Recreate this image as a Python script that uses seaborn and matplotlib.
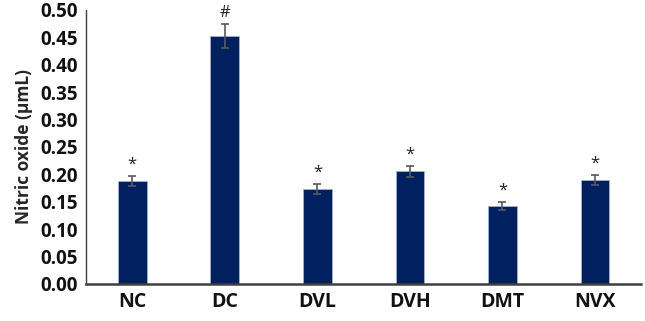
import pandas as pd
import numpy as np
import matplotlib
matplotlib.use("Agg")
import matplotlib.pyplot as plt
import seaborn as sns

# data
groups = ["NC", "DC", "DVL", "DVH", "DMT", "NVX"]
nitric_oxide = [0.188, 0.452, 0.173, 0.206, 0.142, 0.190]
sem = [0.009, 0.022, 0.009, 0.010, 0.007, 0.009]
marks = ["*", "#", "*", "*", "*", "*"]

df = pd.DataFrame({"group": groups, "no": nitric_oxide, "sem": sem})

sns.set_theme(style="white")
plt.rcParams["font.family"] = ["Open Sans", "DejaVu Sans"]

fig = plt.figure(figsize=(6.45, 3.21), dpi=100)
ax = fig.add_axes([0.1333, 0.1153, 0.861, 0.854])

sns.barplot(data=df, x="group", y="no", color="#002060", width=0.31,
            edgecolor="#aab0d0", linewidth=0.6, saturation=1, errorbar=None, ax=ax)
ax.errorbar(np.arange(len(groups)), df["no"], yerr=df["sem"], fmt="none",
            ecolor="#595959", elinewidth=1.2, capsize=3, capthick=1.2)

for i, (v, e, m) in enumerate(zip(nitric_oxide, sem, marks)):
    ax.text(i, v + e + 0.006, m, ha="center", va="bottom",
            fontsize=12, color="#222222")

ax.set_xlim(-0.5, 5.5)
ax.set_ylim(0, 0.5)
ax.set_yticks(np.arange(0, 0.51, 0.05))
ax.set_yticklabels([f"{t:.2f}" for t in np.arange(0, 0.51, 0.05)])
ax.set_xlabel("")
ax.set_ylabel("Nitric oxide (µmL)", fontsize=12.5, fontweight="bold", labelpad=5)
ax.tick_params(axis="y", length=0, labelsize=13.5, pad=6)
ax.tick_params(axis="x", length=0, labelsize=14, pad=6)
for lab in ax.get_xticklabels() + ax.get_yticklabels():
    lab.set_fontweight("bold")
    lab.set_color("#111111")

for s in ["top", "right"]:
    ax.spines[s].set_visible(False)
ax.spines["left"].set_color("#404040")
ax.spines["left"].set_linewidth(1.0)
ax.spines["bottom"].set_color("#404040")
ax.spines["bottom"].set_linewidth(1.8)

fig.savefig("out.png", dpi=100)
